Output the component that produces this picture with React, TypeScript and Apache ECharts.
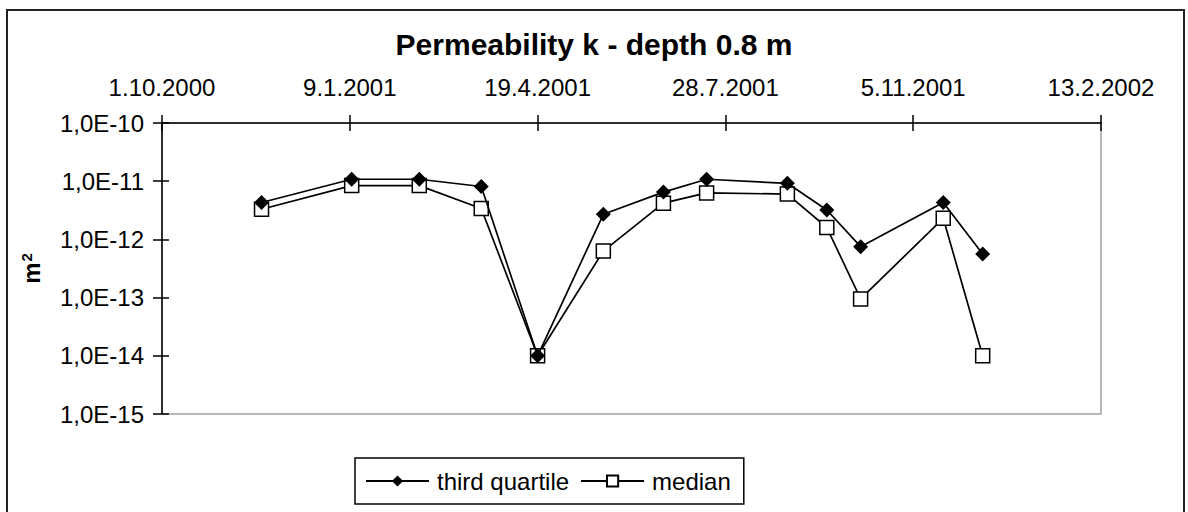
import React, { useEffect, useRef } from "react";
import * as echarts from "echarts";

// ---- data ----
const sampleDates = [
  "23.11.2000", "10.1.2001", "15.2.2001", "20.3.2001", "19.4.2001", "24.5.2001",
  "25.6.2001", "18.7.2001", "30.8.2001", "20.9.2001", "8.10.2001", "21.11.2001", "12.12.2001",
];
const thirdQuartile = [
  4.3e-12, 1.08e-11, 1.08e-11, 8.1e-12, 1.0e-14, 2.7e-12,
  6.5e-12, 1.08e-11, 9.2e-12, 3.2e-12, 7.5e-13, 4.3e-12, 5.6e-13,
];
const median = [
  3.3e-12, 8.4e-12, 8.4e-12, 3.4e-12, 1.0e-14, 6.3e-13,
  4.2e-12, 6.3e-12, 6.0e-12, 1.6e-12, 9.5e-14, 2.3e-12, 1.0e-14,
];
const xAxisStart = "1.10.2000";
const xAxisEnd = "13.2.2002";
const xTickStepDays = 100;
const yMin = 1e-15;
const yMax = 1e-10;

const DAY = 86400000;
const parseDate = (s: string) => {
  const [d, m, y] = s.split(".").map(Number);
  return Date.UTC(y, m - 1, d);
};
const t0 = parseDate(xAxisStart);
const toDays = (s: string) => Math.round((parseDate(s) - t0) / DAY);
const fmtDate = (days: number) => {
  const dt = new Date(t0 + Math.round(days) * DAY);
  return `${dt.getUTCDate()}.${dt.getUTCMonth() + 1}.${dt.getUTCFullYear()}`;
};
const fmtExp = (v: number) => {
  const e = Math.round(Math.log10(v));
  return "1,0E" + (e < 0 ? "-" : "+") + String(Math.abs(e)).padStart(2, "0");
};

const FONT = "'Liberation Sans', Arial, sans-serif";

export default function App() {
  const ref = useRef<HTMLDivElement>(null);
  useEffect(() => {
    if (!ref.current) return;
    const chart = echarts.init(ref.current, undefined, { renderer: "svg" });
    const xMax = toDays(xAxisEnd);
    const tqData = sampleDates.map((d, i) => [toDays(d), thirdQuartile[i]]);
    const mdData = sampleDates.map((d, i) => [toDays(d), median[i]]);
    const xBase = {
      type: "value",
      position: "top",
      min: 0,
      max: xMax,
      interval: xTickStepDays,
      offset: 0,
      splitLine: { show: false },
    };
    const yBase = {
      type: "log",
      logBase: 10,
      min: yMin,
      max: yMax,
      position: "left",
      offset: 0,
      splitLine: { show: false },
    };
    chart.setOption({
      animation: false,
      backgroundColor: "#fff",
      textStyle: { fontFamily: FONT, color: "#000" },
      title: {
        text: "Permeability k - depth 0.8 m",
        left: "center",
        top: 24,
        textStyle: { fontFamily: FONT, fontSize: 30, fontWeight: "bold", color: "#000" },
      },
      grid: {
        left: 162,
        right: 87,
        top: 123,
        bottom: 98,
        containLabel: false,
        outerBoundsMode: "none",
        show: true,
        backgroundColor: "#fff",
        borderColor: "#a0a0a0",
        borderWidth: 1.5,
      },
      xAxis: [
        {
          ...xBase,
          axisLine: { show: true, lineStyle: { color: "#000", width: 1.5 } },
          axisTick: { show: true, inside: false, length: 8, lineStyle: { color: "#000", width: 1.5 } },
          axisLabel: {
            show: true,
            margin: 24,
            fontSize: 24,
            fontFamily: FONT,
            color: "#000",
            showMinLabel: true,
            showMaxLabel: true,
            formatter: (v: number) => fmtDate(v),
          },
        },
        {
          ...xBase,
          axisLine: { show: false },
          axisTick: { show: true, inside: true, length: 8, lineStyle: { color: "#000", width: 1.5 } },
          axisLabel: { show: false },
        },
      ],
      yAxis: [
        {
          ...yBase,
          name: "{m|m}{s|2}",
          nameLocation: "middle",
          nameGap: 118,
          nameRotate: 90,
          nameTextStyle: {
            fontFamily: FONT,
            fontWeight: "bold",
            color: "#000",
            rich: {
              m: { fontFamily: FONT, fontSize: 24, fontWeight: "bold", color: "#000" },
              s: { fontFamily: FONT, fontSize: 15, fontWeight: "bold", color: "#000", padding: [0, 0, 10, 1] },
            },
          },
          axisLine: { show: true, lineStyle: { color: "#000", width: 1.5 } },
          axisTick: { show: true, inside: false, length: 9, lineStyle: { color: "#000", width: 1.5 } },
          axisLabel: {
            show: true,
            margin: 18,
            fontSize: 24,
            fontFamily: FONT,
            color: "#000",
            formatter: (v: number) => fmtExp(v),
          },
        },
        {
          ...yBase,
          axisLine: { show: false },
          axisTick: { show: true, inside: true, length: 7, lineStyle: { color: "#000", width: 1.5 } },
          axisLabel: { show: false },
        },
      ],
      legend: {
        data: ["third quartile", "median"],
        left: 355,
        top: 458,
        orient: "horizontal",
        selectedMode: false,
        borderColor: "#000",
        borderWidth: 1.5,
        padding: [11, 13, 11, 10],
        itemWidth: 63,
        itemHeight: 14,
        itemGap: 11,
        textStyle: { fontFamily: FONT, fontSize: 24, color: "#000", padding: [0, 0, 0, 3] },
      },
      graphic: [
        {
          type: "rect",
          shape: { x: 7, y: 10, width: 1177, height: 510 },
          style: { fill: "none", stroke: "#222", lineWidth: 2 },
          silent: true,
          z: -10,
        },
      ],
      series: [
        {
          name: "median",
          type: "line",
          xAxisIndex: 0,
          yAxisIndex: 0,
          data: mdData,
          symbol: "rect",
          symbolSize: 14,
          showAllSymbol: true,
          lineStyle: { color: "#000", width: 1.7 },
          itemStyle: { color: "#fff", borderColor: "#000", borderWidth: 1.5 },
          z: 2,
        },
        {
          name: "third quartile",
          type: "line",
          xAxisIndex: 0,
          yAxisIndex: 0,
          data: tqData,
          symbol: "diamond",
          symbolSize: 15,
          showAllSymbol: true,
          lineStyle: { color: "#000", width: 1.7 },
          itemStyle: { color: "#000", borderColor: "#000", borderWidth: 0 },
          z: 3,
        },
      ],
    });
    return () => chart.dispose();
  }, []);
  return (
    <div
      ref={ref}
      style={{ position: "absolute", left: 0, top: 0, width: 1188, height: 512 }}
    />
  );
}
